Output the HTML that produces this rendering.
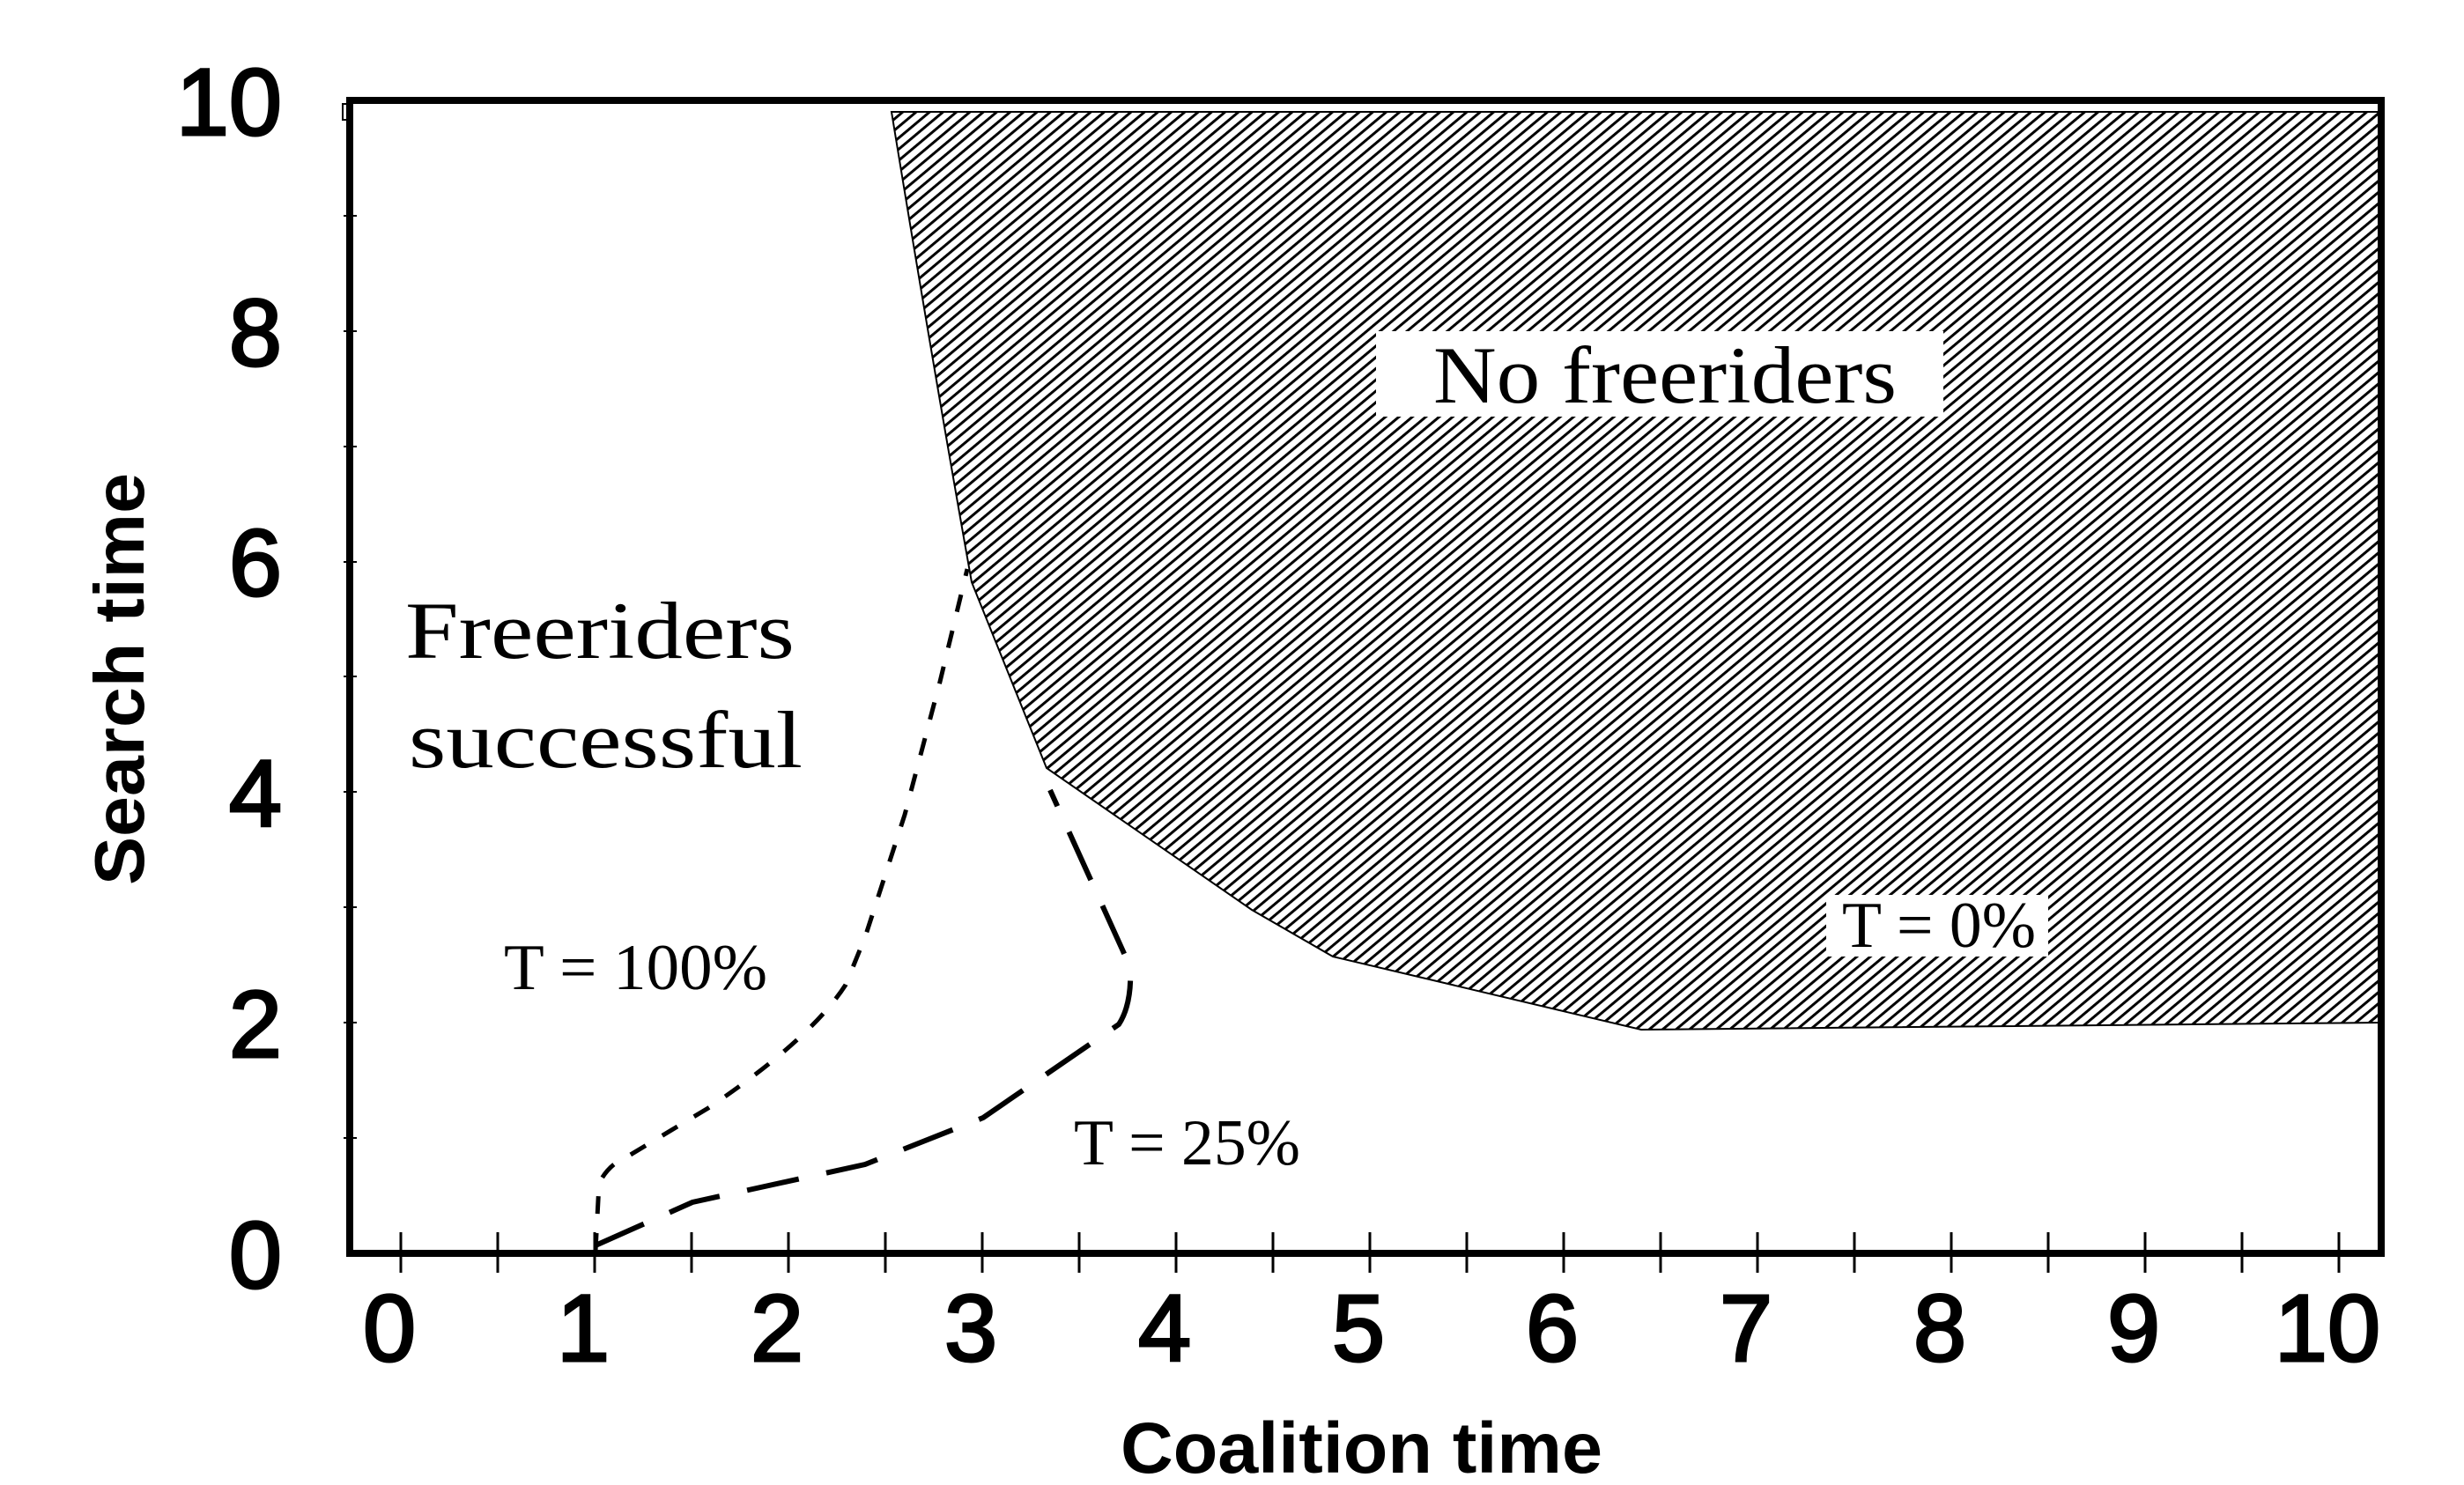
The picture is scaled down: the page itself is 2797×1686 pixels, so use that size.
<!DOCTYPE html>
<html><head><meta charset="utf-8"><style>html,body{margin:0;padding:0;background:#fff}svg{display:block}</style></head>
<body>
<svg width="2797" height="1686" viewBox="0 0 2797 1686" xmlns="http://www.w3.org/2000/svg">
<defs>
<pattern id="h" patternUnits="userSpaceOnUse" width="20" height="9.8" patternTransform="rotate(-40)">
<rect x="0" y="0" width="20" height="3" fill="#000"/>
</pattern>
</defs>
<rect width="2797" height="1686" fill="#fff"/>
<path d="M1012,127 Q1060,420 1103,661 L1188,872 L1421,1033 L1513,1086 L1863,1169 L2702,1161 L2702,127 Z" fill="url(#h)" stroke="#000" stroke-width="2"/>
<rect x="1562" y="376" width="644" height="97" fill="#fff"/>
<rect x="2073" y="1016" width="252" height="70" fill="#fff"/>
<path d="M397,114 L2703,114 L2703,1423 L397,1423 Z" fill="none" stroke="#000" stroke-width="8"/>
<rect x="389" y="118" width="8" height="18" fill="none" stroke="#000" stroke-width="2"/>
<g stroke="#000" stroke-width="3">
<line x1="455" y1="1399" x2="455" y2="1445"/><line x1="565" y1="1399" x2="565" y2="1445"/>
<line x1="675" y1="1399" x2="675" y2="1445"/><line x1="785" y1="1399" x2="785" y2="1445"/>
<line x1="895" y1="1399" x2="895" y2="1445"/><line x1="1005" y1="1399" x2="1005" y2="1445"/>
<line x1="1115" y1="1399" x2="1115" y2="1445"/><line x1="1225" y1="1399" x2="1225" y2="1445"/>
<line x1="1335" y1="1399" x2="1335" y2="1445"/><line x1="1445" y1="1399" x2="1445" y2="1445"/>
<line x1="1555" y1="1399" x2="1555" y2="1445"/><line x1="1665" y1="1399" x2="1665" y2="1445"/>
<line x1="1775" y1="1399" x2="1775" y2="1445"/><line x1="1885" y1="1399" x2="1885" y2="1445"/>
<line x1="1995" y1="1399" x2="1995" y2="1445"/><line x1="2105" y1="1399" x2="2105" y2="1445"/>
<line x1="2215" y1="1399" x2="2215" y2="1445"/><line x1="2325" y1="1399" x2="2325" y2="1445"/>
<line x1="2435" y1="1399" x2="2435" y2="1445"/><line x1="2545" y1="1399" x2="2545" y2="1445"/>
<line x1="2655" y1="1399" x2="2655" y2="1445"/>
</g>
<g stroke="#000" stroke-width="2">
<line x1="390" y1="245" x2="405" y2="245"/><line x1="390" y1="376" x2="405" y2="376"/>
<line x1="390" y1="507" x2="405" y2="507"/><line x1="390" y1="638" x2="405" y2="638"/>
<line x1="390" y1="768" x2="405" y2="768"/><line x1="390" y1="899" x2="405" y2="899"/>
<line x1="390" y1="1030" x2="405" y2="1030"/><line x1="390" y1="1161" x2="405" y2="1161"/>
<line x1="390" y1="1292" x2="405" y2="1292"/>
</g>
<path d="M676,1420 L680,1344 Q690,1322 714,1312 L804,1258 Q920,1180 960,1118 L982,1064 L1027,925 L1067,774 L1098,646" fill="none" stroke="#000" stroke-width="5" stroke-dasharray="20,22"/>
<path d="M676,1414 L786,1365 L982,1322 L1116,1269 L1270,1163 Q1285,1140 1283,1098 L1192,897" fill="none" stroke="#000" stroke-width="6" stroke-dasharray="60,32"/>
<g font-family="Liberation Sans, Arial, sans-serif" font-size="108" fill="#000" stroke="#000" stroke-width="3" text-anchor="middle">
<text x="442" y="1545">0</text><text x="662" y="1545">1</text><text x="882" y="1545">2</text>
<text x="1102" y="1545">3</text><text x="1322" y="1545">4</text><text x="1542" y="1545">5</text>
<text x="1762" y="1545">6</text><text x="1982" y="1545">7</text><text x="2202" y="1545">8</text>
<text x="2422" y="1545">9</text><text x="2642" y="1545">10</text>
</g>
<g font-family="Liberation Sans, Arial, sans-serif" font-size="108" fill="#000" stroke="#000" stroke-width="3" text-anchor="end">
<text x="320" y="1462">0</text><text x="320" y="1200">2</text><text x="320" y="938">4</text>
<text x="320" y="676">6</text><text x="320" y="415">8</text><text x="320" y="153">10</text>
</g>
<text x="1272" y="1672" font-family="Liberation Sans, Arial, sans-serif" font-weight="bold" font-size="82" textLength="547" lengthAdjust="spacingAndGlyphs">Coalition time</text>
<text transform="translate(163,1005) rotate(-90)" font-family="Liberation Sans, Arial, sans-serif" font-weight="bold" font-size="80" textLength="468" lengthAdjust="spacingAndGlyphs">Search time</text>
<g font-family="Liberation Serif, Times New Roman, serif" fill="#000">
<text x="460" y="747" font-size="92" textLength="442" lengthAdjust="spacingAndGlyphs">Freeriders</text>
<text x="464" y="871" font-size="92" textLength="447" lengthAdjust="spacingAndGlyphs">successful</text>
<text x="1627" y="457" font-size="92" textLength="526" lengthAdjust="spacingAndGlyphs">No freeriders</text>
<text x="572" y="1123" font-size="74" textLength="299" lengthAdjust="spacingAndGlyphs">T = 100%</text>
<text x="1219" y="1322" font-size="74" textLength="257" lengthAdjust="spacingAndGlyphs">T = 25%</text>
<text x="2091" y="1075" font-size="74" textLength="220" lengthAdjust="spacingAndGlyphs">T = 0%</text>
</g>
</svg>
</body></html>
